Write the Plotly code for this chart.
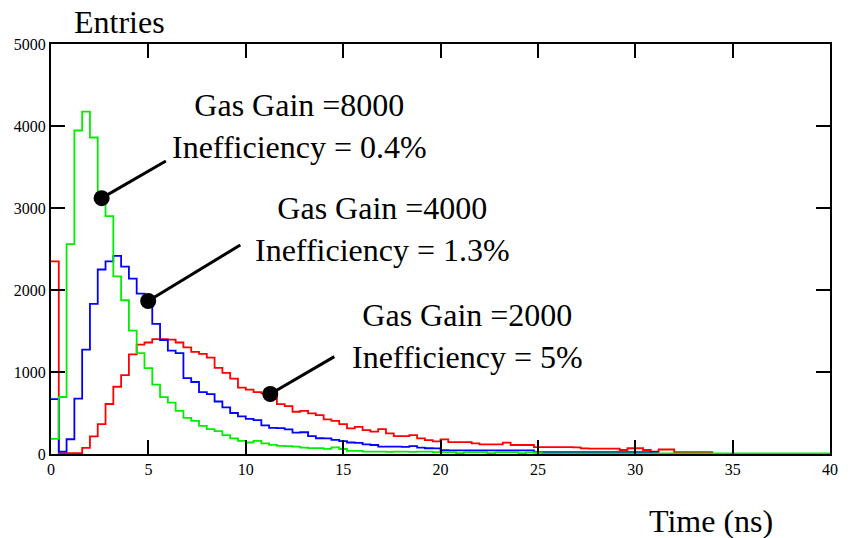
import plotly.graph_objects as go

# ---- data (entries per 0.4 ns bin, starting at t = 0) ----
bin_start = 0.0
bin_width = 0.4

green_gain8000 = [185, 695, 2560, 3945, 4175, 3860, 3100, 2900, 2165, 1875,
                  1505, 1231, 1047, 845, 694, 627, 526, 441, 405, 344,
                  304, 280, 231, 190, 160, 140, 160, 130, 112, 100,
                  95, 89, 77, 72, 72, 63, 80, 61, 37, 37,
                  30, 28, 28, 25, 28, 30, 26, 28, 30, 24,
                  22, 22, 10, 22, 22, 22, 10, 22, 22, 22,
                  10, 20, 15, 8, 8, 8, 8, 8, 8, 8,
                  8, 8, 8, 8, 8, 8, 8, 8, 8, 8,
                  8, 8, 8, 8, 8, 8, 8, 8, 8, 8,
                  8, 8, 8, 8, 8, 8, 8, 8, 8, 8]

blue_gain4000 = [668, 30, 180, 675, 1272, 1830, 2250, 2350, 2415, 2285,
                 2138, 1955, 1900, 1587, 1390, 1260, 1230, 925, 878, 755,
                 730, 640, 568, 500, 460, 428, 412, 350, 318, 315,
                 300, 260, 265, 218, 192, 190, 172, 158, 140, 135,
                 118, 110, 90, 90, 90, 88, 97, 77, 70, 69,
                 47, 45, 45, 45, 45, 45, 45, 45, 45, 45,
                 45, 45, 24, 24, 24, 24, 24, 24, 24, 24,
                 24, 24, 24, 24, 24, 24, 24, 24]

red_gain2000 = [2350, 10, 10, 10, 75, 215, 365, 610, 820, 962,
                1215, 1335, 1360, 1400, 1400, 1395, 1360, 1300, 1245, 1220,
                1175, 1050, 990, 920, 810, 785, 755, 740, 715, 608,
                584, 515, 527, 495, 474, 422, 405, 365, 312, 332,
                292, 272, 304, 251, 219, 219, 231, 190, 170, 155,
                178, 145, 145, 145, 130, 118, 118, 118, 138, 110,
                110, 110, 85, 85, 85, 85, 85, 80, 69, 65,
                65, 65, 65, 49, 70, 70, 49, 28, 55, 55,
                24, 24, 24, 24, 24]

x_ticks = [0, 5, 10, 15, 20, 25, 30, 35, 40]
y_ticks = [0, 1000, 2000, 3000, 4000, 5000]

# callouts: text, text centre (x, y), dot (x, y), line end (x, y)
callout_text = ["Gas Gain =8000<br>Inefficiency = 0.4%",
                "Gas Gain =4000<br>Inefficiency = 1.3%",
                "Gas Gain =2000<br>Inefficiency = 5%"]
callout_text_x = [12.77, 17.0, 21.37]
callout_text_y = [4006, 2744, 1433]
callout_dot_x = [2.6, 4.99, 11.26]
callout_dot_y = [3120, 1866, 732]
callout_end_x = [5.9, 9.72, 14.55]
callout_end_y = [3573, 2549, 1187]

FONT = "Liberation Serif, Times New Roman, serif"


def step_xy(vals):
    xs = [bin_start + i * bin_width for i in range(len(vals) + 1)]
    ys = list(vals) + [vals[-1]]
    return xs, ys


fig = go.Figure()
for vals, col in [(red_gain2000, "#ff0000"), (blue_gain4000, "#0000ff"),
                  (green_gain8000, "#00ee00")]:
    xs, ys = step_xy(vals)
    fig.add_trace(go.Scatter(x=xs, y=ys, mode="lines", line_shape="hv",
                             line=dict(color=col, width=1.8),
                             showlegend=False, hoverinfo="skip"))

for i in range(len(callout_text)):
    fig.add_shape(type="line", xref="x", yref="y",
                  x0=callout_dot_x[i], y0=callout_dot_y[i],
                  x1=callout_end_x[i], y1=callout_end_y[i],
                  line=dict(color="black", width=3))
    fig.add_annotation(x=callout_text_x[i], y=callout_text_y[i],
                       text=callout_text[i], showarrow=False,
                       xanchor="center", yanchor="middle", align="center",
                       font=dict(family=FONT, size=32, color="black"))

fig.add_trace(go.Scatter(x=callout_dot_x, y=callout_dot_y, mode="markers",
                         marker=dict(color="black", size=16),
                         showlegend=False, hoverinfo="skip"))

fig.add_annotation(xref="paper", yref="paper", x=0.0267, y=1.054,
                   xanchor="left", yanchor="middle", text="Entries",
                   showarrow=False, font=dict(family=FONT, size=32, color="black"))
fig.add_annotation(xref="paper", yref="paper", x=0.765, y=-0.163,
                   xanchor="left", yanchor="middle", text="Time (ns)",
                   showarrow=False, font=dict(family=FONT, size=32, color="black"))

axis_common = dict(showgrid=False, zeroline=False, showline=True,
                   linecolor="black", linewidth=2, mirror="ticks",
                   ticks="inside", ticklen=14, tickwidth=1.5, tickcolor="black",
                   tickfont=dict(family=FONT, size=16, color="black"))

fig.update_xaxes(range=[0, 40], tickvals=x_ticks, ticktext=[str(v) for v in x_ticks],
                 **axis_common)
fig.update_yaxes(range=[0, 5000], tickvals=y_ticks, ticktext=[str(v) for v in y_ticks],
                 **axis_common)

fig.update_layout(width=850, height=538,
                  margin=dict(l=51, r=13, t=44, b=84),
                  paper_bgcolor="white", plot_bgcolor="white",
                  font=dict(family=FONT, color="black"))

fig.write_html("out.html")
